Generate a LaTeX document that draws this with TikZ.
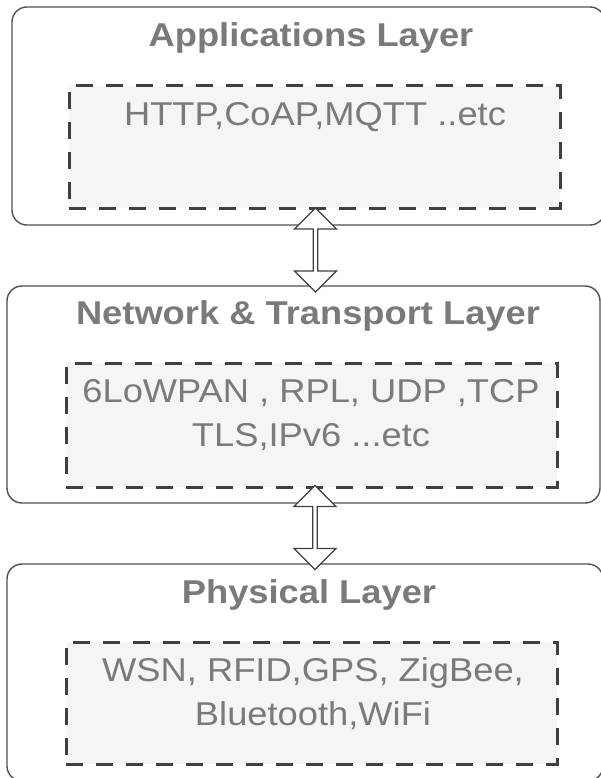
\documentclass[tikz,border=0pt]{standalone}
\usepackage{fontspec}
\setmainfont[FakeStretch=1.1]{Liberation Sans}
\usetikzlibrary{shapes.arrows}

% colours
\definecolor{textgray}{HTML}{7A7A7A}
\definecolor{linegray}{HTML}{505050}
\definecolor{dashgray}{HTML}{404040}
\definecolor{boxfill}{HTML}{F5F5F5}

\tikzset{
  layer/.style={draw=linegray, line width=1.4pt, rounded corners=15pt, inner sep=0pt},
  protobox/.style={draw=dashgray, fill=boxfill, line width=3pt, dash pattern=on 17pt off 13pt, inner sep=0pt},
  layertitle/.style={text=textgray, font=\fontsize{33}{38}\selectfont\bfseries, anchor=base},
  prototext/.style={text=textgray, font=\fontsize{33}{44}\selectfont, align=center, anchor=base},
  updown/.style={double arrow, draw=dashgray, fill=white, line width=1.2pt, rotate=90,
    minimum height=84pt, minimum width=42pt, double arrow head extend=5pt, inner sep=0pt}
}

\begin{document}
\begin{tikzpicture}[x=1pt,y=-1pt]
\useasboundingbox (0,0) rectangle (601,778);

% outer layer boxes
\node[layer, minimum width=593pt, minimum height=218pt] (app) at (308.5,116) {};
\node[layer, minimum width=593pt, minimum height=217pt] (net) at (303.5,394.5) {};
\node[layer, minimum width=596pt, minimum height=217pt] (phy) at (305,672.5) {};

% dashed protocol boxes
\node[protobox, minimum width=491pt, minimum height=122pt] (appin) at (314.5,147) {};
\node[protobox, minimum width=491pt, minimum height=124pt] (netin) at (311.5,425) {};
\node[protobox, minimum width=491pt, minimum height=122pt] (phyin) at (311.5,703) {};

% layer titles
\node[layertitle] (apptitle) at (311,47) {Applications Layer};
\node[layertitle] (nettitle) at (308,324) {Network \& Transport Layer};
\node[layertitle] (phytitle) at (309,603) {Physical Layer};

% protocols (base = last line)
\node[prototext] (apptext) at (315,126) {HTTP,CoAP,MQTT ..etc};
\node[prototext] (nettext) at (311,446) {6LoWPAN , RPL, UDP ,TCP\\TLS,IPv6 ...etc};
\node[prototext] (phytext) at (313,725) {WSN, RFID,GPS, ZigBee,\\Bluetooth,WiFi};

% arrows between layers
\node[updown] (appnet) at (315.5,250) {};
\node[updown] (netphy) at (315,527.5) {};

\end{tikzpicture}
\end{document}
